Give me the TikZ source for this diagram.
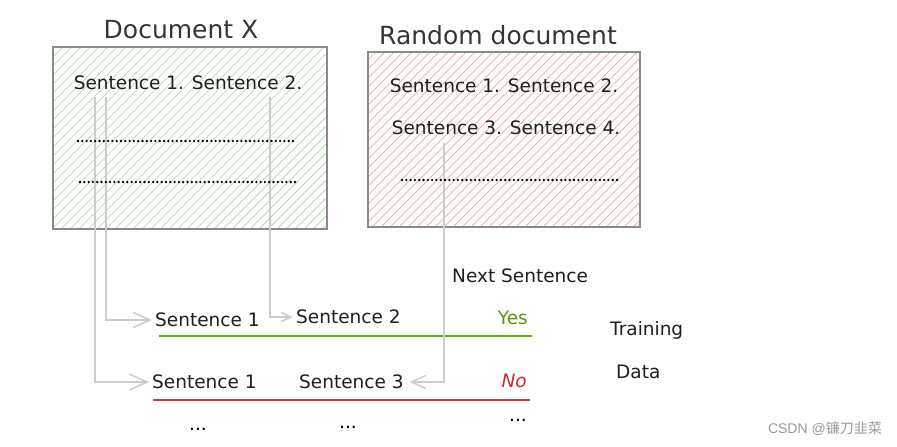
\documentclass[tikz,border=0pt]{standalone}
\usepackage{fontspec}
\setmainfont{DejaVu Sans}
\newfontfamily\wmfont{Liberation Sans}
\newfontfamily\cjkfont{Noto Sans CJK SC}
\usetikzlibrary{arrows.meta}
\definecolor{hatchG}{HTML}{A8D5A2}
\definecolor{hatchR}{HTML}{F5A3A3}
\definecolor{boxgray}{HTML}{8A8A8A}
\definecolor{conngray}{HTML}{CCCCCC}
\definecolor{inkc}{HTML}{1E1E1E}
\definecolor{yesg}{HTML}{5C940D}
\definecolor{nor}{HTML}{C92A2A}
\definecolor{lineg}{HTML}{66A80F}
\definecolor{liner}{HTML}{D03A3A}
\tikzset{
  docbox/.style={draw=boxgray, line width=1.6pt, inner sep=0pt},
  ttl/.style={font=\fontsize{25}{28}\selectfont, text=inkc!90, inner sep=0pt},
  txt/.style={font=\fontsize{18.5}{21}\selectfont, text=inkc, inner sep=0pt},
  lbl/.style={font=\fontsize{18.5}{21}\selectfont, text=inkc, inner sep=3pt, anchor=west},
  plain/.style={font=\fontsize{18.5}{21}\selectfont, text=inkc, anchor=west, inner sep=0pt},
  conn/.style={draw=conngray, line width=1.5pt},
  dotline/.style={line width=2.6pt, line cap=round, dash pattern=on 0pt off 4.3pt, draw=black},
}
\begin{document}
\begin{tikzpicture}[x=1pt,y=-1pt]
\useasboundingbox (0,0) rectangle (897,447);

% Document X box
\begin{scope}
  \clip (53,47) rectangle (327,229);
  \foreach \i in {-200,-191,...,340} \draw[hatchG, line width=0.7pt] (\i,229) -- ++(190,-190);
\end{scope}
\node[docbox, minimum width=274pt, minimum height=182pt] (dx) at (190,138) {};
\node[ttl] (tx) at (181,30) {Document X};
\node[txt] (dx1) at (188,83) {Sentence 1. Sentence 2.};

% Random document box
\begin{scope}
  \clip (368,52) rectangle (640,227);
  \foreach \i in {120,129,...,660} \draw[hatchR, line width=0.7pt] (\i,227) -- ++(190,-190);
\end{scope}
\node[docbox, minimum width=272pt, minimum height=175pt] (rd) at (504,139.5) {};
\node[ttl] (tr) at (498,35) {Random document};
\node[txt] (rd1) at (504,86) {Sentence 1. Sentence 2.};
\node[txt] (rd2) at (506,128) {Sentence 3. Sentence 4.};

% training rows
\node[lbl] (r1a) at (152,320) {Sentence 1};
\node[lbl] (r1b) at (293,317) {Sentence 2};
\node[font=\fontsize{18.5}{21}\selectfont, text=yesg, anchor=east, inner sep=0pt] (yes) at (528,318) {Yes};
\coordinate (g1) at (159,336); \coordinate (g2) at (532,336);
\draw[lineg, line width=1.8pt] (g1) -- (g2);

\node[lbl] (r2a) at (149,382) {Sentence 1};
\node[lbl] (r2b) at (296,382) {Sentence 3};
\node[font=\fontsize{18.5}{21}\selectfont\itshape, text=nor, anchor=east, inner sep=0pt] (no) at (527,381) {No};
\coordinate (h1) at (153,400); \coordinate (h2) at (530,400);
\draw[liner, line width=1.8pt] (h1) -- (h2);

\node[font=\fontsize{18.5}{21}\selectfont, inner sep=0pt] (e1) at (198,429) {...};
\node[font=\fontsize{18.5}{21}\selectfont, inner sep=0pt] (e2) at (348,427) {...};
\node[font=\fontsize{18.5}{21}\selectfont, inner sep=0pt] (e3) at (518,420) {...};

\node[plain] (ns) at (452,276) {Next Sentence};
\node[plain] (tr1) at (610,330) {Training};
\node[plain] (tr2) at (616,372) {Data};

% connectors
\coordinate (c1) at (95,97);
\coordinate (c2) at (106,97);
\coordinate (c3) at (270,97);
\coordinate (c4) at (444,143);
\draw[conn, -{Straight Barb[length=18pt,width=16pt,line width=1.5pt]}] (c1) |- (r2a.west);
\draw[conn, -{Straight Barb[length=17pt,width=15pt,line width=1.5pt]}] (c2) |- (r1a.west);
\draw[conn, -{Straight Barb[length=10pt,width=9pt,line width=1.5pt]}] (c3) |- (r1b.west);
\draw[conn, -{Straight Barb[length=14pt,width=13pt,line width=1.5pt]}] (c4) |- ([xshift=3pt]r2b.east);

% dotted lines (on top)
\coordinate (d1) at (78,141); \coordinate (d2) at (296,141);
\coordinate (d3) at (80,182); \coordinate (d4) at (298,182);
\coordinate (d5) at (402,180); \coordinate (d6) at (619,180);
\draw[dotline] (d1) -- (d2);
\draw[dotline] (d3) -- (d4);
\draw[dotline] (d5) -- (d6);

% watermark
\node[font=\wmfont\fontsize{14}{16}\selectfont, text=gray!80, anchor=east, inner sep=0pt] (wm) at (882,429) {CSDN @{\cjkfont 镰刀韭菜}};
\end{tikzpicture}
\end{document}
